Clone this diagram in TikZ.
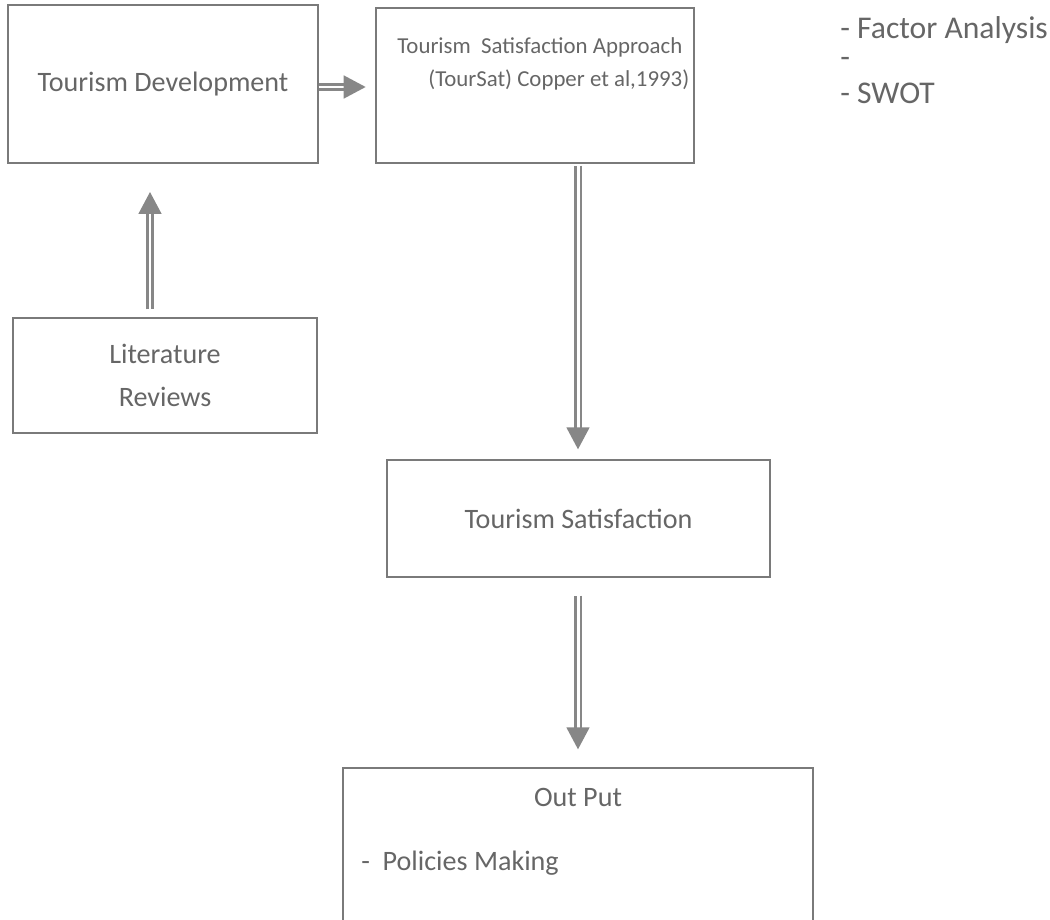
\documentclass[tikz,border=0pt]{standalone}
\usepackage{fontspec}
\setmainfont{Carlito}
\usepackage{xcolor}
\usepackage{tikz}
\usetikzlibrary{arrows.meta, positioning}

\definecolor{boxgray}{HTML}{7A7A7A}
\definecolor{txtgray}{HTML}{666666}

\begin{document}
\begin{tikzpicture}[
      x=0.02cm, y=-0.02cm,
      every node/.style={text=txtgray, font=\fontsize{16}{20}\selectfont},
      stagebox/.style={draw=boxgray, line width=0.8pt, inner sep=0pt},
      linetxt/.style={anchor=west, inner sep=0pt},
      flow/.style={draw=boxgray!90, double=white, double distance=1.7pt, line width=1.2pt,
        -{Triangle[width=13pt, length=12.5pt, fill=boxgray!90, color=boxgray!90]}}
    ]
      \clip (0,0) rectangle (1050,919);
      % boxes
      \node[stagebox, minimum width=6.2cm, minimum height=3.16cm] (dev) at (163,84) {Tourism Development};
      \node[stagebox, minimum width=6.36cm, minimum height=3.1cm] (approach) at (535,85.5) {};
      \node[linetxt, font=\fontsize{13}{16}\selectfont] (approach1) at (397,47) {Tourism\ \ Satisfaction Approach};
      \node[linetxt, font=\fontsize{13}{16}\selectfont] (approach2) at (428,80) {(TourSat) Copper et al,1993)};
      \node[stagebox, minimum width=6.08cm, minimum height=2.3cm, align=center] (lit) at (165,375.5)
        {Literature\\[4pt]Reviews};
      \node[stagebox, minimum width=7.66cm, minimum height=2.34cm] (sat) at (578.5,518.5) {Tourism Satisfaction};
      \node[stagebox, minimum width=9.4cm, minimum height=3.8cm] (out) at (578,863) {};
      \node (outtitle) at (578,797) {Out Put};
      \node[linetxt] (policy) at (361,863) {-\ \ Policies Making};
      % methods
      \node[linetxt, font=\fontsize{18}{22}\selectfont] (factor) at (840,30) {- Factor Analysis};
      \node[linetxt, font=\fontsize{18}{22}\selectfont] (dash) at (840,62) {-};
      \node[linetxt, font=\fontsize{18}{22}\selectfont] (swot) at (840,93) {- SWOT};
      % arrows
      \draw[flow] (dev.east |- 0,87) -- ([xshift=47*0.02cm]dev.east |- 0,87);
      \draw[flow] (lit.north -| 150,0) ++(0,-8) -- (150,192);
      \draw[flow] (approach.south -| 578,0) ++(0,2) -- ([yshift=10*0.02cm]sat.north -| 578,0);
      \draw[flow] (sat.south -| 578,0) ++(0,18) -- ([yshift=18*0.02cm]out.north -| 578,0);
    \end{tikzpicture}
\end{document}
